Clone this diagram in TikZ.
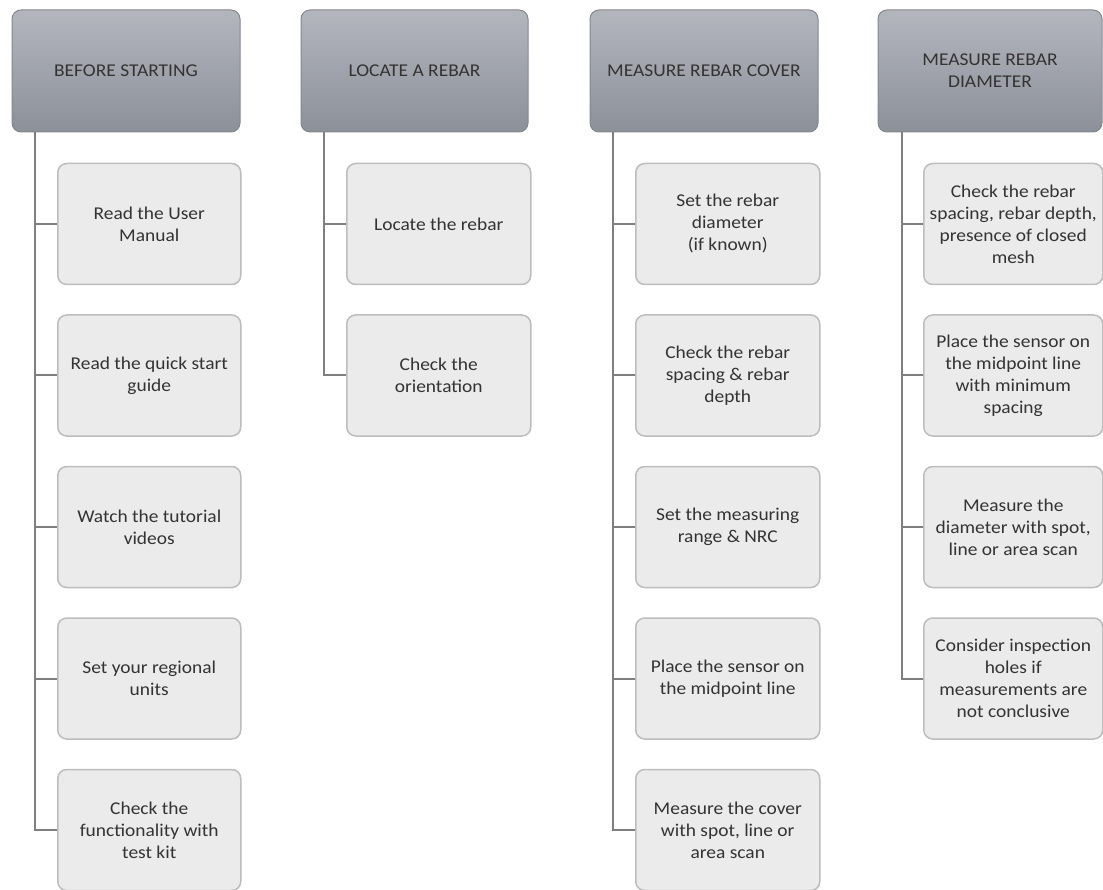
\documentclass[tikz,border=0pt]{standalone}
\usepackage{fontspec}
\setmainfont{Carlito}[FakeStretch=1.08]
\definecolor{hdtop}{HTML}{B3B6BD}
\definecolor{hdbot}{HTML}{8C9099}
\definecolor{hdline}{HTML}{83878F}
\definecolor{chfill}{HTML}{EBEBEB}
\definecolor{chline}{HTML}{BDBDBD}
\definecolor{txt}{HTML}{333333}
\definecolor{conncol}{HTML}{7F7F7F}
\tikzset{
  header/.style={rounded corners=9pt, draw=hdline, line width=1pt, top color=hdtop, bottom color=hdbot,
    minimum height=122pt, inner sep=2pt, align=center, text=txt, font={\fontsize{18}{22}\selectfont}},
  child/.style={rounded corners=9pt, draw=chline, line width=1.5pt, fill=chfill, anchor=west,
    minimum height=121pt, inner sep=2pt, align=center, text=txt, font={\fontsize{18}{22}\selectfont}},
  conn/.style={draw=conncol, line width=2pt}
}
\begin{document}
\begin{tikzpicture}[x=1pt,y=-1pt]
\useasboundingbox (0,0) rectangle (1103,890);
% headers
\node[header, minimum width=228pt] (h1) at (126,71) {BEFORE STARTING};
\node[header, minimum width=227pt] (h2) at (414.5,71) {LOCATE A REBAR};
\node[header, minimum width=228pt] (h3) at (704,71) {MEASURE REBAR COVER};
\node[header, minimum width=224pt] (h4) at (990,71) {MEASURE REBAR\\DIAMETER};
% trunk coordinates
\coordinate (t1) at (35,132);
\coordinate (t2) at (324,132);
\coordinate (t3) at (613,132);
\coordinate (t4) at (902,132);
% column 1
\node[child, minimum width=183pt] (c11) at (57,224) {Read the User\\Manual};
\node[child, minimum width=183pt] (c12) at (57,375.5) {Read the quick start\\guide};
\node[child, minimum width=183pt] (c13) at (57,527) {Watch the tutorial\\videos};
\node[child, minimum width=183pt] (c14) at (57,678.5) {Set your regional\\units};
\node[child, minimum width=183pt] (c15) at (57,830) {Check the\\functionality with\\test kit};
% column 2
\node[child, minimum width=184pt] (c21) at (346,224) {Locate the rebar};
\node[child, minimum width=184pt] (c22) at (346,375.5) {Check the\\orientation};
% column 3
\node[child, minimum width=184pt] (c31) at (635,224) {Set the rebar\\diameter\\(if known)};
\node[child, minimum width=184pt] (c32) at (635,375.5) {Check the rebar\\spacing \& rebar\\depth};
\node[child, minimum width=184pt] (c33) at (635,527) {Set the measuring\\range \& NRC};
\node[child, minimum width=184pt] (c34) at (635,678.5) {Place the sensor on\\the midpoint line};
\node[child, minimum width=184pt] (c35) at (635,830) {Measure the cover\\with spot, line or\\area scan};
% column 4
\node[child, minimum width=179pt] (c41) at (923,224) {Check the rebar\\spacing, rebar depth,\\presence of closed\\mesh};
\node[child, minimum width=179pt] (c42) at (923,375.5) {Place the sensor on\\the midpoint line\\with minimum\\spacing};
\node[child, minimum width=179pt] (c43) at (923,527) {Measure the\\diameter with spot,\\line or area scan};
\node[child, minimum width=179pt] (c44) at (923,678.5) {Consider inspection\\holes if\\measurements are\\not conclusive};
% connectors
\draw[conn] (t1) |- (c15.west);
\foreach \c in {c11,c12,c13,c14} \draw[conn] (t1 |- \c.west) -- (\c.west);
\draw[conn] (t2) |- (c22.west);
\draw[conn] (t2 |- c21.west) -- (c21.west);
\draw[conn] (t3) |- (c35.west);
\foreach \c in {c31,c32,c33,c34} \draw[conn] (t3 |- \c.west) -- (\c.west);
\draw[conn] (t4) |- (c44.west);
\foreach \c in {c41,c42,c43} \draw[conn] (t4 |- \c.west) -- (\c.west);
\end{tikzpicture}
\end{document}
